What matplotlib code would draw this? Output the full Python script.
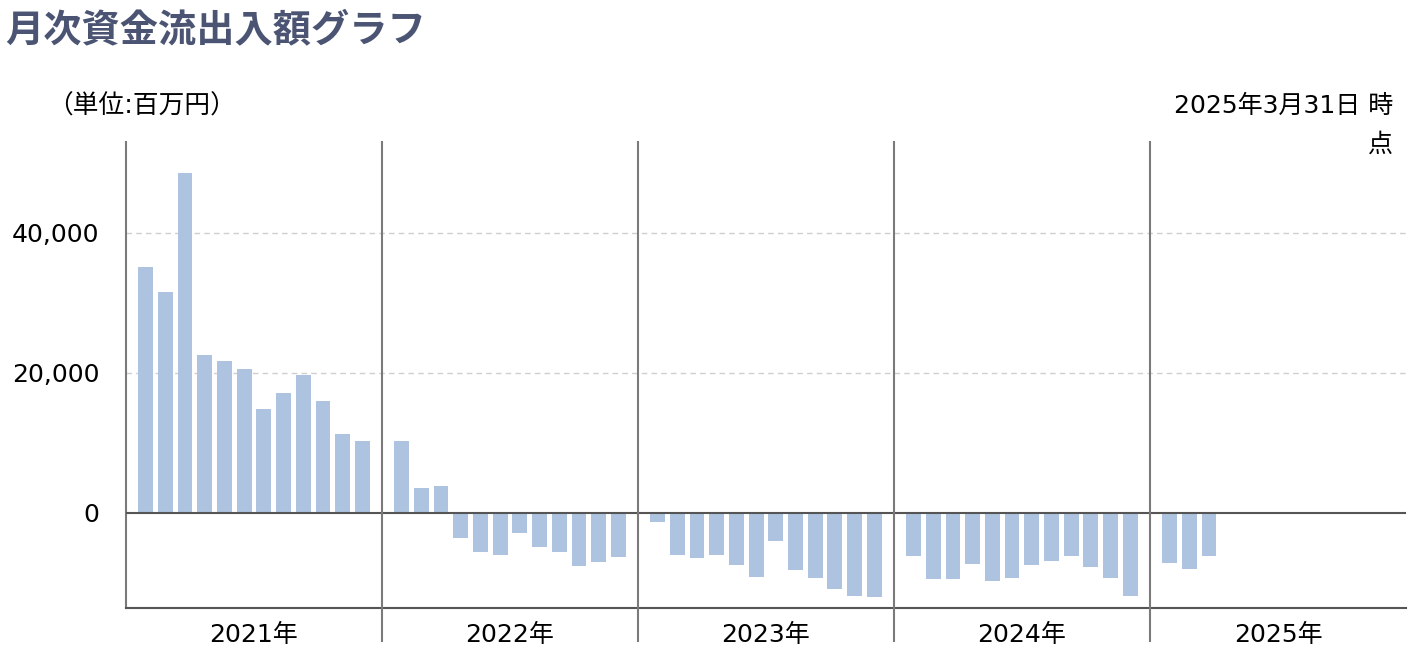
import matplotlib
matplotlib.use("Agg")
import matplotlib.pyplot as plt
from matplotlib.ticker import FuncFormatter

plt.rcParams['font.family'] = ['DejaVu Sans', 'Noto Sans CJK JP']

# monthly net flows (million yen)
flows_2021 = [35200, 31600, 48600, 22500, 21700, 20600, 14800, 17100, 19700, 16000, 11300, 10200]
flows_2022 = [10200, 3500, 3800, -3600, -5600, -6000, -2900, -4900, -5600, -7600, -7000, -6300]
flows_2023 = [-1300, -6000, -6400, -6000, -7500, -9100, -4000, -8200, -9300, -10900, -11900, -12100]
flows_2024 = [-6200, -9500, -9500, -7300, -9700, -9300, -7500, -6900, -6200, -7800, -9300, -11900]
flows_2025 = [-7100, -8000, -6200]
years = ['2021年', '2022年', '2023年', '2024年', '2025年']

bar_color = '#adc3df'
sep_color = '#7a7a7a'


def main():
    fig = plt.figure(figsize=(14.14, 6.58), dpi=100)
    ax = fig.add_axes([0.0891, 0.076, 0.9052, 0.7082])

    # each year takes 13 slots: a padding slot and 12 months
    all_years = [flows_2021, flows_2022, flows_2023, flows_2024, flows_2025]
    xs, vals = [], []
    for yi, flows in enumerate(all_years):
        for m, v in enumerate(flows):
            xs.append(yi * 13 + m + 1)
            vals.append(v)

    ax.set_xlim(0, 65)
    ax.set_ylim(-13600, 53000)

    for yv in [20000, 40000]:
        ax.axhline(yv, color='#cfcfcf', lw=1, ls=(0, (4, 3)), zorder=0)

    ax.bar(xs, vals, width=0.75, color=bar_color, zorder=2)
    ax.axhline(0, color='#555555', lw=1.5, zorder=3)

    # year separators, extending below the axis
    for yi in range(1, 5):
        ax.axvline(yi * 13, ymin=-0.071, ymax=1, color=sep_color, lw=1.5,
                   clip_on=False, zorder=3)

    for s in ['top', 'right']:
        ax.spines[s].set_visible(False)
    ax.spines['left'].set_color(sep_color)
    ax.spines['left'].set_linewidth(1.5)
    ax.spines['bottom'].set_color('#555555')
    ax.spines['bottom'].set_linewidth(1.5)

    ax.set_yticks([0, 20000, 40000])
    ax.yaxis.set_major_formatter(FuncFormatter(lambda v, p: f'{int(v):,}'))
    ax.tick_params(axis='y', length=0, pad=19, labelsize=18)

    ax.set_xticks([yi * 13 + 6.5 for yi in range(5)])
    ax.set_xticklabels(years)
    ax.tick_params(axis='x', length=0, pad=11, labelsize=18)

    fig.text(0.004, 0.953, '月次資金流出入額グラフ', fontsize=27.5, fontweight='bold',
             color='#4b5573', ha='left', va='center')
    fig.text(0.033, 0.838, '（単位:百万円）', fontsize=18.5, ha='left', va='center')
    fig.text(0.985, 0.857, '2025年3月31日 時\n点', fontsize=18, ha='right', va='top',
             linespacing=1.75, multialignment='right')

    fig.savefig('out.png', dpi=100)


if __name__ == '__main__':
    main()
